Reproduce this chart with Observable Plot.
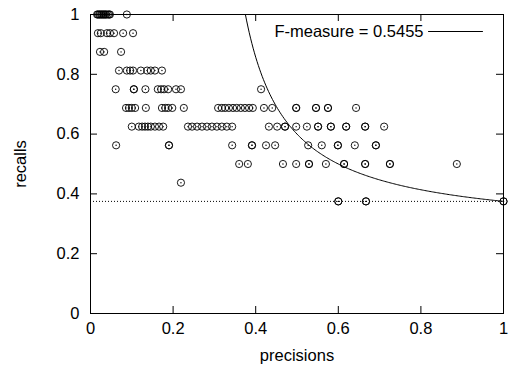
<!DOCTYPE html>
<html>
<head>
<meta charset="utf-8">
<script src="https://cdn.jsdelivr.net/npm/d3@7"></script>
<script src="https://cdn.jsdelivr.net/npm/@observablehq/plot@0.6"></script>
<style>
  html, body { margin: 0; padding: 0; background: #fff; }
</style>
</head>
<body>
<div id="chart"></div>
<script>
// Recall levels (k/16) and the precisions observed at each level
const recallLevels = [1, 0.9375, 0.875, 0.8125, 0.75, 0.6875, 0.625, 0.5625, 0.5, 0.4375, 0.375];

const precAt1000 = [0.016, 0.018, 0.021, 0.023, 0.026, 0.028, 0.031, 0.033, 0.036, 0.038, 0.042, 0.045, 0.047, 0.088];
const precAt0938 = [0.018, 0.025, 0.040, 0.047, 0.057, 0.079, 0.103];
const precAt0875 = [0.023, 0.033, 0.074];
const precAt0813 = [0.069, 0.088, 0.096, 0.103, 0.122, 0.137, 0.146, 0.156, 0.173];
const precAt0750 = [0.061, 0.105, 0.105, 0.133, 0.163, 0.171, 0.178, 0.188, 0.207, 0.219, 0.413];
const precAt0688 = [0.086, 0.093, 0.100, 0.108, 0.134, 0.173, 0.181, 0.188, 0.198, 0.226,
                    0.309, 0.318, 0.326, 0.335, 0.345, 0.354, 0.364, 0.374, 0.384, 0.393,
                    0.420, 0.440, 0.498, 0.498, 0.546, 0.546, 0.575, 0.575, 0.643];
const precAt0625 = [0.100, 0.117, 0.125, 0.132, 0.139, 0.146, 0.156, 0.166, 0.176,
                    0.236, 0.246, 0.258, 0.270, 0.282, 0.294, 0.306, 0.318, 0.330, 0.343,
                    0.432, 0.452, 0.471, 0.471, 0.498, 0.524, 0.551, 0.551, 0.582, 0.582,
                    0.619, 0.619, 0.665, 0.665, 0.711];
const precAt0563 = [0.062, 0.190, 0.190, 0.343, 0.391, 0.391, 0.425, 0.447, 0.527, 0.560,
                    0.599, 0.599, 0.640, 0.691, 0.691];
const precAt0500 = [0.360, 0.381, 0.466, 0.498, 0.529, 0.529, 0.570, 0.614, 0.614,
                    0.665, 0.665, 0.725, 0.725, 0.887];
const precAt0438 = [0.219];
const precAt0375 = [0.600, 0.600, 0.667, 0.667, 1.0, 1.0];

const precisionRows = [precAt1000, precAt0938, precAt0875, precAt0813, precAt0750, precAt0688,
                       precAt0625, precAt0563, precAt0500, precAt0438, precAt0375];

const fMeasure = 0.5455;
const baselineRecall = 0.375;
const legendLabel = "F-measure = 0.5455";

const xTicks = [0, 0.2, 0.4, 0.6, 0.8, 1];
const yTicks = [0, 0.2, 0.4, 0.6, 0.8, 1];
const xLabel = "precisions";
const yLabel = "recalls";

// Build table
const points = [];
precisionRows.forEach((row, i) => row.forEach(p => points.push({p, r: recallLevels[i]})));

// Iso-F-measure curve: R = F*P / (2P - F)
const pStart = fMeasure / (2 - fMeasure);
const curve = d3.range(0, 201).map(i => {
  const p = pStart + (1 - pStart) * i / 200;
  return {p, r: fMeasure * p / (2 * p - fMeasure)};
});

const font = "'Liberation Sans', Arial, Helvetica, sans-serif";
const fs = 16.5;
const plotW = 513 - 90 - 10;
const plotH = 370 - 14 - 57;
const tickLen = 7;

const chart = Plot.plot({
  width: 513,
  height: 370,
  marginLeft: 90,
  marginRight: 10,
  marginTop: 14,
  marginBottom: 57,
  style: {fontFamily: font, fontSize: fs + "px", color: "black", background: "white", overflow: "visible"},
  x: {domain: [0, 1]},
  y: {domain: [0, 1]},
  marks: [
    Plot.ruleY([baselineRecall], {x1: 0, x2: 1, stroke: "black", strokeWidth: 1, strokeDasharray: "1,2"}),
    Plot.line(curve, {x: "p", y: "r", stroke: "black", strokeWidth: 1, clip: true}),
    Plot.dot(points, {x: "p", y: "r", r: 3.6, stroke: "black", strokeWidth: 0.9, fill: "none"}),
    Plot.dot(points, {x: "p", y: "r", r: 0.7, fill: "black", stroke: null}),
    // inward ticks
    Plot.tickX(xTicks, {x: d => d, insetTop: plotH - tickLen, stroke: "black"}),
    Plot.tickX(xTicks, {x: d => d, insetBottom: plotH - tickLen, stroke: "black"}),
    Plot.tickY(yTicks, {y: d => d, insetRight: plotW - tickLen, stroke: "black"}),
    Plot.tickY(yTicks, {y: d => d, insetLeft: plotW - tickLen, stroke: "black"}),
    Plot.axisX({ticks: xTicks, tickSize: 0, tickPadding: 9, tickFormat: d => String(d),
      fontSize: fs, label: xLabel, labelAnchor: "center", labelOffset: 47, labelArrow: "none"}),
    Plot.axisY({ticks: yTicks, tickSize: 0, tickPadding: 11, tickFormat: d => String(d),
      fontSize: fs, label: yLabel, labelAnchor: "center", labelOffset: 76, labelArrow: "none"}),
    Plot.frame({stroke: "black", strokeWidth: 1}),
    // legend
    Plot.text([legendLabel], {frameAnchor: "top-right", dx: -80, dy: 17, textAnchor: "end", lineAnchor: "middle",
      fontSize: fs, fill: "black"}),
    Plot.vector([legendLabel], {frameAnchor: "top-right", dx: -75, dy: 17, rotate: 90, length: 54, anchor: "start",
      stroke: "black", strokeWidth: 1,
      shape: {draw(context, l) { context.moveTo(0, 0); context.lineTo(0, -l); }}})
  ]
});

document.getElementById("chart").appendChild(chart);
</script>
</body>
</html>
